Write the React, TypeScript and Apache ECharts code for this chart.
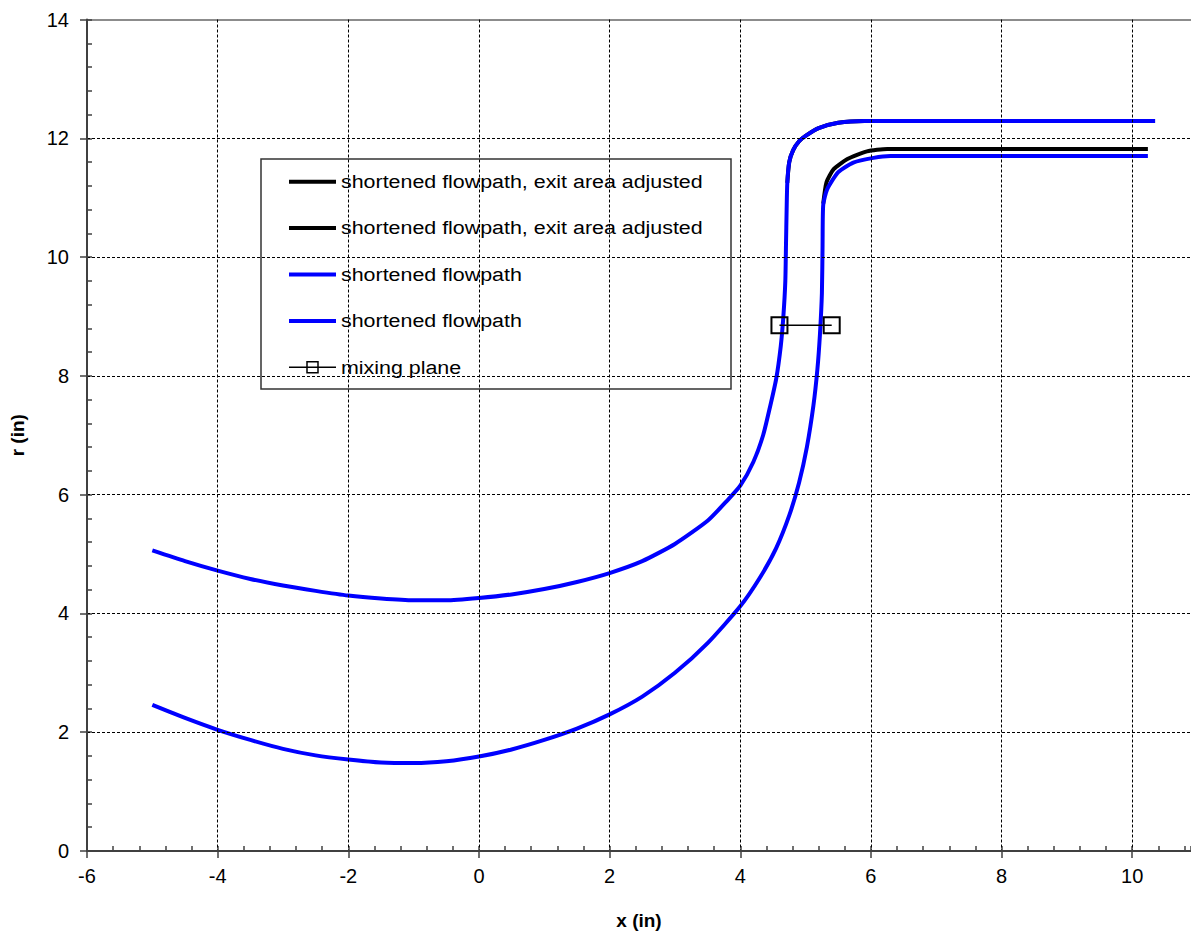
import React, { useEffect, useRef } from "react";
import * as echarts from "echarts";

// ---- data (x in inches, r in inches) ----
const outerFlowpath: number[][] = [
  [-5, 5.06], [-4.5, 4.88], [-4, 4.72], [-3.5, 4.58], [-3, 4.47], [-2.5, 4.38], [-2, 4.3],
  [-1.5, 4.25], [-1, 4.22], [-0.5, 4.22], [0, 4.26], [0.5, 4.32], [1, 4.41], [1.5, 4.53],
  [2, 4.68], [2.5, 4.88], [3, 5.17], [3.5, 5.56], [3.8, 5.9], [4, 6.15], [4.2, 6.55],
  [4.35, 7.0], [4.45, 7.45], [4.55, 7.95], [4.62, 8.5], [4.66, 9.0], [4.69, 9.6], [4.7, 10.2],
  [4.71, 10.8], [4.72, 11.25], [4.75, 11.6], [4.81, 11.8], [4.9, 11.95], [5.0, 12.04],
  [5.2, 12.17], [5.5, 12.26], [5.9, 12.29], [10.35, 12.29],
];
const innerFlowpath: number[][] = [
  [-5, 2.46], [-4.5, 2.24], [-4, 2.04], [-3.5, 1.87], [-3, 1.72], [-2.5, 1.61], [-2, 1.54],
  [-1.5, 1.49], [-1, 1.48], [-0.5, 1.51], [0, 1.59], [0.5, 1.71], [1, 1.87], [1.5, 2.06],
  [2, 2.3], [2.5, 2.6], [3, 3.0], [3.5, 3.5], [4, 4.12], [4.3, 4.6], [4.55, 5.1], [4.75, 5.65],
  [4.9, 6.2], [5.02, 6.8], [5.12, 7.5], [5.18, 8.1], [5.22, 8.7], [5.25, 9.4], [5.26, 10.2],
  [5.27, 10.88], [5.33, 11.14], [5.5, 11.43], [5.73, 11.59], [6.04, 11.67], [6.3, 11.7],
  [10.24, 11.7],
];
const adjustedHub: number[][] = [
  [5.27, 10.9], [5.32, 11.26], [5.43, 11.48], [5.64, 11.65], [5.94, 11.78], [6.25, 11.82],
  [10.24, 11.82],
];
const adjustedShroud: number[][] = [
  [4.72, 11.25], [4.75, 11.6], [4.81, 11.8], [4.9, 11.95], [5.0, 12.04], [5.2, 12.17],
  [5.5, 12.26], [5.9, 12.29], [10.35, 12.29],
];
const mixingPlane: number[][] = [
  [4.6, 8.85], [5.4, 8.85],
];
const legendNames = [
  "shortened flowpath, exit area adjusted",
  "shortened flowpath, exit area adjusted",
  "shortened flowpath",
  "shortened flowpath",
  "mixing plane",
];
const legendColors = ["#000000", "#000000", "#0000ff", "#0000ff", "#000000"];

const X_MIN = -6;
const X_MAX = 10.9;
const Y_MIN = 0;
const Y_MAX = 14;

const FONT = "'Liberation Sans', Arial, sans-serif";

export default function App() {
  const ref = useRef<HTMLDivElement>(null);
  useEffect(() => {
    if (!ref.current) return;
    const chart = echarts.init(ref.current, undefined, { renderer: "svg" });

    const legendX = 261, legendY = 159, legendW = 470, legendH = 230;
    const rowY0 = 181.7, rowGap = 46.4;
    const legendEls: any[] = [
      {
        type: "rect",
        shape: { x: legendX, y: legendY, width: legendW, height: legendH },
        style: { fill: "#ffffff", stroke: "#333333", lineWidth: 1.5 },
      },
    ];
    legendNames.forEach((name, i) => {
      const y = rowY0 + i * rowGap;
      const isMix = i === legendNames.length - 1;
      legendEls.push({
        type: "line",
        shape: { x1: 289, y1: y, x2: 336, y2: y },
        style: { stroke: legendColors[i], lineWidth: isMix ? 1.5 : 4 },
      });
      if (isMix) {
        legendEls.push({
          type: "rect",
          shape: { x: 312.5 - 5.5, y: y - 5.5, width: 11, height: 11 },
          style: { fill: "rgba(0,0,0,0)", stroke: "#000", lineWidth: 1.5 },
        });
      }
      legendEls.push({
        type: "text",
        x: 341,
        y: y,
        scaleX: 1.19,
        style: {
          text: name,
          x: 0,
          y: 0,
          fill: "#000",
          font: `18px ${FONT}`,
          verticalAlign: "middle",
          align: "left",
        },
      });
    });

    const lineSeries = (name: string, data: number[][], color: string) => ({
      type: "line",
      name,
      data,
      xAxisIndex: 0,
      yAxisIndex: 0,
      showSymbol: false,
      symbol: "none",
      smooth: 0.2,
      lineStyle: { color, width: 4 },
      itemStyle: { color },
      z: 3,
    });

    chart.setOption({
      animation: false,
      backgroundColor: "#ffffff",
      textStyle: { fontFamily: FONT },
      grid: { left: 86, right: 0, top: 19.5, bottom: 77, containLabel: false },
      xAxis: [
        {
          type: "value",
          min: X_MIN,
          max: X_MAX,
          interval: 2,
          position: "bottom",
          name: "x (in)",
          nameLocation: "middle",
          nameGap: 60,
          nameTextStyle: { fontWeight: "bold", fontSize: 19, color: "#000", fontFamily: FONT },
          axisLine: { show: true, onZero: false, lineStyle: { color: "#404040", width: 2 } },
          axisTick: { show: true, inside: false, length: 7, lineStyle: { color: "#404040", width: 1.5 } },
          axisLabel: { fontSize: 20, color: "#000", margin: 15, showMaxLabel: false, fontFamily: FONT },
          splitLine: {
            show: true,
            showMinLine: false,
            showMaxLine: false,
            lineStyle: { color: "#000", type: [3, 2], width: 1 },
          },
          z: 5,
        },
        {
          type: "value",
          min: X_MIN,
          max: X_MAX,
          interval: 0.4,
          position: "bottom",
          axisLine: { show: false, onZero: false },
          axisTick: { show: true, inside: true, length: 5, lineStyle: { color: "#404040", width: 1.5 } },
          axisLabel: { show: false },
          splitLine: { show: false },
        },
        {
          type: "value",
          min: X_MIN,
          max: X_MAX,
          position: "top",
          axisLine: { show: true, onZero: false, lineStyle: { color: "#8c8c8c", width: 2 } },
          axisTick: { show: false },
          axisLabel: { show: false },
          splitLine: { show: false },
        },
      ],
      yAxis: [
        {
          type: "value",
          min: Y_MIN,
          max: Y_MAX,
          interval: 2,
          position: "left",
          name: "r (in)",
          nameLocation: "middle",
          nameGap: 60,
          nameRotate: 90,
          nameTextStyle: { fontWeight: "bold", fontSize: 19, color: "#000", fontFamily: FONT },
          axisLine: { show: true, onZero: false, lineStyle: { color: "#404040", width: 2 } },
          axisTick: { show: true, inside: false, length: 7, lineStyle: { color: "#404040", width: 1.5 } },
          axisLabel: { fontSize: 20, color: "#000", margin: 18, fontFamily: FONT },
          splitLine: {
            show: true,
            showMinLine: false,
            showMaxLine: false,
            lineStyle: { color: "#000", type: [3, 2], width: 1 },
          },
          z: 5,
        },
        {
          type: "value",
          min: Y_MIN,
          max: Y_MAX,
          interval: 0.4,
          position: "left",
          axisLine: { show: false, onZero: false },
          axisTick: { show: true, inside: true, length: 5, lineStyle: { color: "#404040", width: 1.5 } },
          axisLabel: { show: false },
          splitLine: { show: false },
        },
      ],
      series: [
        lineSeries("shortened flowpath, exit area adjusted", adjustedShroud, "#000000"),
        lineSeries("shortened flowpath, exit area adjusted", adjustedHub, "#000000"),
        lineSeries("shortened flowpath", innerFlowpath, "#0000ff"),
        lineSeries("shortened flowpath", outerFlowpath, "#0000ff"),
        {
          type: "line",
          name: "mixing plane",
          data: mixingPlane,
          xAxisIndex: 0,
          yAxisIndex: 0,
          symbol: "rect",
          symbolSize: 16,
          showSymbol: true,
          lineStyle: { color: "#000", width: 1.5 },
          itemStyle: { color: "rgba(0,0,0,0)", borderColor: "#000", borderWidth: 2 },
          z: 4,
        },
      ],
      graphic: [{ type: "group", z: 100, children: legendEls }],
    });

    return () => chart.dispose();
  }, []);

  return (
    <div
      ref={ref}
      style={{ position: "fixed", left: 0, top: 0, width: 1191, height: 935 }}
    />
  );
}
